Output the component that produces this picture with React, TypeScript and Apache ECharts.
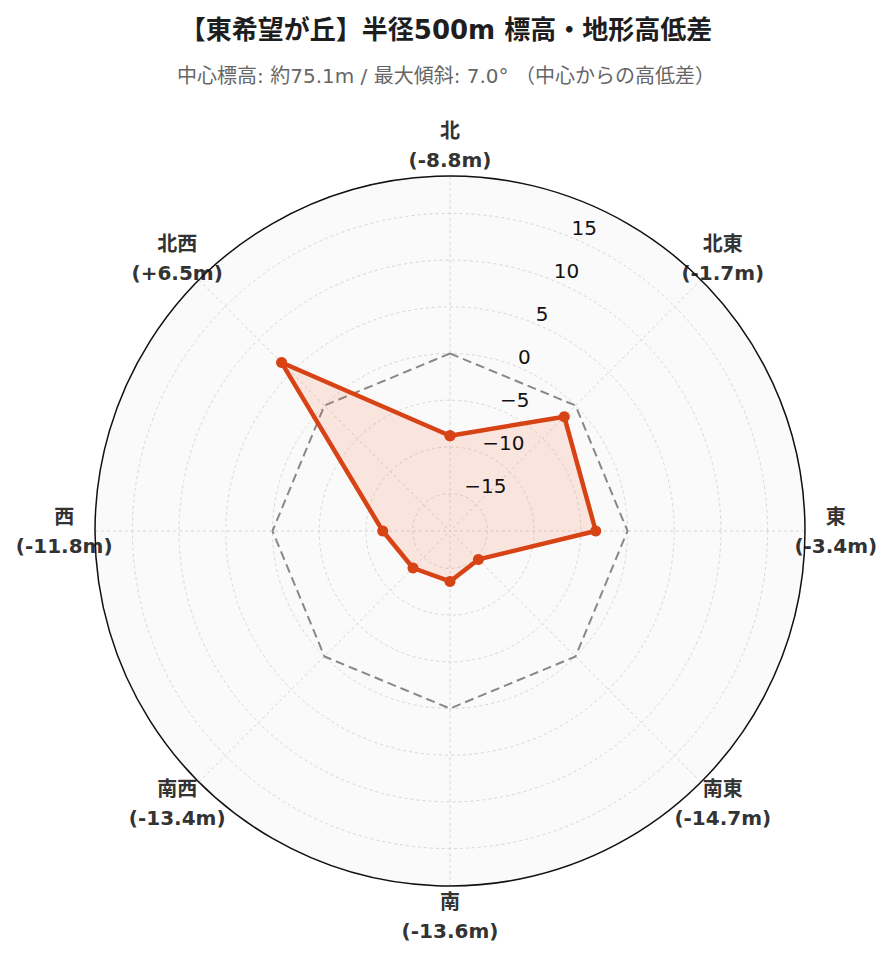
import React, { useEffect, useRef } from 'react';
import * as echarts from 'echarts';

// ---- data ----
const DIRECTIONS = ['北', '北東', '東', '南東', '南', '南西', '西', '北西'];
const ELEVATION_DIFF = [-8.8, -1.7, -3.4, -14.7, -13.6, -13.4, -11.8, 6.5];
const ZERO_REFERENCE = [0, 0, 0, 0, 0, 0, 0, 0];
const RADIAL_MIN = -19;
const RADIAL_MAX = 19;
const TITLE = '【東希望が丘】半径500m 標高・地形高低差';
const SUBTITLE = '中心標高: 約75.1m / 最大傾斜: 7.0° （中心からの高低差）';

// ---- style constants ----
const FONT = "'DejaVu Sans', 'Noto Sans CJK JP', sans-serif";
const CENTER = [450, 531];
const RADIUS = 355;
const LABEL_R = 22.3; // radial position (axis units) of the direction labels
const LINE_COLOR = '#D84315';
const LABEL_COLOR = '#333333';
const STEP = 360 / DIRECTIONS.length;

const angleOf = (i: number) => i * STEP;
const closedLoop = (vals: number[]) => [
  ...vals.map((v, i) => [v, angleOf(i)]),
  [vals[0], 360],
];
const fmtDiff = (v: number) => `(${v > 0 ? '+' : ''}${v.toFixed(1)}m)`;

export default function App() {
  const ref = useRef<HTMLDivElement>(null);

  useEffect(() => {
    if (!ref.current) return;
    const chart = echarts.init(ref.current, undefined, { renderer: 'svg' });
    const dotted = { color: '#d6d6d6', width: 1, type: [3, 3] as any };
    const hidden = {
      axisLine: { show: false },
      axisTick: { show: false },
      axisLabel: { show: false },
      splitLine: { show: false },
      splitArea: { show: false },
    };
    const angleBase = { type: 'value', min: 0, max: 360, interval: STEP, clockwise: true };
    const radiusBase = { type: 'value', min: RADIAL_MIN, max: RADIAL_MAX, splitNumber: 8 };
    const dirText = {
      fontFamily: FONT,
      fontSize: 20,
      fontWeight: 'bold',
      color: LABEL_COLOR,
      lineHeight: 29,
      align: 'center',
      textBorderWidth: 0,
    };

    chart.setOption({
      animation: false,
      backgroundColor: '#ffffff',
      textStyle: { fontFamily: FONT },
      title: [
        {
          text: TITLE,
          left: 'center',
          top: 14,
          padding: 0,
          textStyle: { fontFamily: FONT, fontSize: 26, fontWeight: 'bold', color: '#1e1e1e', lineHeight: 32 },
        },
        {
          text: SUBTITLE,
          left: 'center',
          top: 64,
          padding: 0,
          textStyle: { fontFamily: FONT, fontSize: 20, fontWeight: 'normal', color: '#666', lineHeight: 24 },
        },
      ],
      polar: [
        { center: CENTER, radius: RADIUS }, // background
        { center: CENTER, radius: RADIUS }, // grid + data
        { center: CENTER, radius: RADIUS }, // outer line + radial tick labels
      ],
      angleAxis: [
        {
          ...angleBase,
          ...hidden,
          polarIndex: 0,
          startAngle: 90,
          z: 0,
          splitArea: { show: true, areaStyle: { color: ['#fafafa', '#fafafa'] } },
        },
        {
          ...angleBase,
          ...hidden,
          polarIndex: 1,
          startAngle: 90,
          z: 1,
          splitLine: { show: true, lineStyle: dotted },
        },
        {
          ...angleBase,
          ...hidden,
          polarIndex: 2,
          startAngle: 67.5,
          z: 10,
          axisLine: { show: true, lineStyle: { color: '#111', width: 1.5 } },
        },
      ],
      radiusAxis: [
        { ...radiusBase, ...hidden, polarIndex: 0, z: 0 },
        {
          ...radiusBase,
          ...hidden,
          polarIndex: 1,
          z: 1,
          splitLine: { show: true, lineStyle: dotted },
        },
        {
          ...radiusBase,
          ...hidden,
          polarIndex: 2,
          z: 10,
          axisLabel: {
            show: true,
            showMinLabel: false,
            showMaxLabel: false,
            margin: 0,
            align: 'left',
            verticalAlign: 'bottom',
            fontFamily: FONT,
            fontSize: 20,
            lineHeight: 20,
            color: '#111',
            formatter: (v: number) =>
              Math.abs(v) >= RADIAL_MAX ? '' : String(v).replace('-', '\u2212'),
          },
        },
      ],
      series: [
        {
          type: 'line',
          coordinateSystem: 'polar',
          polarIndex: 1,
          data: closedLoop(ZERO_REFERENCE),
          symbol: 'none',
          silent: true,
          lineStyle: { color: '#888', width: 2, type: [9, 5] },
          z: 2,
        },
        {
          type: 'line',
          coordinateSystem: 'polar',
          polarIndex: 1,
          data: closedLoop(ELEVATION_DIFF),
          symbol: 'circle',
          symbolSize: 11,
          silent: true,
          itemStyle: { color: LINE_COLOR },
          lineStyle: { color: LINE_COLOR, width: 4.5 },
          areaStyle: { color: 'rgba(255,100,60,0.2)', origin: 'start' },
          z: 3,
        },
        {
          type: 'scatter',
          coordinateSystem: 'polar',
          polarIndex: 1,
          clip: false,
          silent: true,
          symbolSize: 1,
          itemStyle: { color: '#ffffff', opacity: 0 },
          data: DIRECTIONS.map((d, i) => [LABEL_R, angleOf(i)]),
          label: {
            show: true,
            position: 'inside',
            ...dirText,
            opacity: 1,
            formatter: (p: any) =>
              `{n|${DIRECTIONS[p.dataIndex]}}\n{v|${fmtDiff(ELEVATION_DIFF[p.dataIndex])}}`,
            rich: { n: dirText, v: dirText },
          },
          z: 4,
        },
      ],
    });

    return () => chart.dispose();
  }, []);

  return (
    <div
      ref={ref}
      style={{ position: 'fixed', left: 0, top: 0, width: 892, height: 962, background: '#fff' }}
    />
  );
}
